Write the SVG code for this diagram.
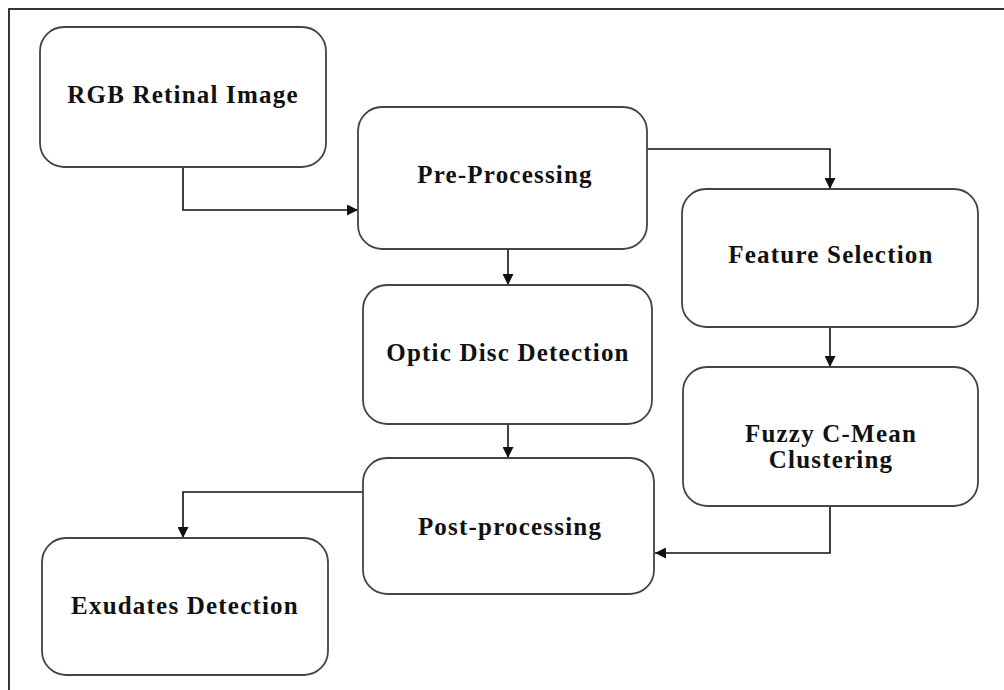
<svg xmlns="http://www.w3.org/2000/svg" width="1004" height="690" viewBox="0 0 1004 690">
<style>
.box{fill:#fff;stroke:#444;stroke-width:1.8}
.lbl{font-family:"Liberation Serif","Times New Roman",serif;font-weight:bold;font-size:25px;letter-spacing:1.2px;fill:#111;text-anchor:middle}
.conn{fill:none;stroke:#111;stroke-width:1.6}
</style>
<defs>
<marker id="ah" markerUnits="userSpaceOnUse" markerWidth="12" markerHeight="11" refX="11" refY="5.5" orient="auto">
<path d="M0,0 L11,5.5 L0,11 Z" fill="#111"/>
</marker>
</defs>
<rect x="0" y="0" width="1004" height="690" fill="#fff"/>
<rect x="9" y="9" width="1010" height="700" fill="none" stroke="#222" stroke-width="1.8"/>
<g id="connectors">
<path class="conn" d="M183,167 V210 H358" marker-end="url(#ah)"/>
<path class="conn" d="M508,249 V285" marker-end="url(#ah)"/>
<path class="conn" d="M647,149 H830 V189" marker-end="url(#ah)"/>
<path class="conn" d="M830,327 V367" marker-end="url(#ah)"/>
<path class="conn" d="M508,424 V458" marker-end="url(#ah)"/>
<path class="conn" d="M830,506 V553 H655" marker-end="url(#ah)"/>
<path class="conn" d="M363,492 H183 V538" marker-end="url(#ah)"/>
</g>
<g id="rgb">
<rect class="box" x="40" y="27" width="286" height="140" rx="24"/>
<text class="lbl" x="183" y="103">RGB Retinal Image</text>
</g>
<g id="pre">
<rect class="box" x="358" y="107" width="289" height="142" rx="24"/>
<text class="lbl" x="505" y="183">Pre-Processing</text>
</g>
<g id="feature">
<rect class="box" x="682" y="189" width="296" height="138" rx="24"/>
<text class="lbl" x="831" y="263">Feature Selection</text>
</g>
<g id="optic">
<rect class="box" x="363" y="285" width="289" height="139" rx="24"/>
<text class="lbl" x="508" y="361">Optic Disc Detection</text>
</g>
<g id="fuzzy">
<rect class="box" x="683" y="367" width="295" height="139" rx="24"/>
<text class="lbl" x="831" y="442">Fuzzy C-Mean</text>
<text class="lbl" x="831" y="468">Clustering</text>
</g>
<g id="post">
<rect class="box" x="363" y="458" width="291" height="136" rx="24"/>
<text class="lbl" x="510" y="535">Post-processing</text>
</g>
<g id="exudates">
<rect class="box" x="42" y="538" width="286" height="137" rx="24"/>
<text class="lbl" x="185" y="614">Exudates Detection</text>
</g>
</svg>
